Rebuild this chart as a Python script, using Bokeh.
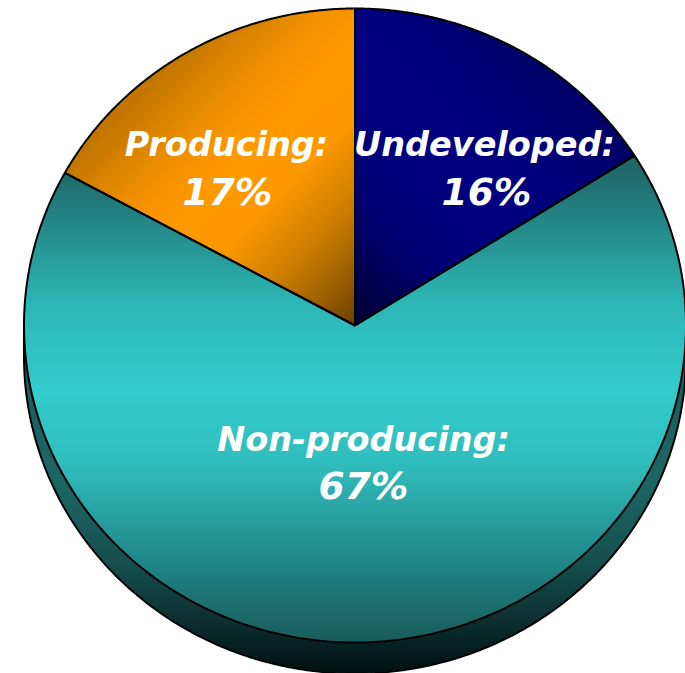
import numpy as np
from bokeh.core.properties import value
from bokeh.embed import file_html
from bokeh.models import ColumnDataSource, Range1d
from bokeh.plotting import figure
from bokeh.resources import INLINE

W, H = 685, 673

# Clockwise from twelve o'clock, as the slices are laid out
categories = ["Undeveloped", "Non-producing", "Producing"]
shares = [16, 67, 17]

# Pie geometry in page pixels: y grows downward, converted on drawing
CX, CY, RX, RY, DEPTH = 354.5, 325.0, 331.0, 317.0, 31.0


def hex_rgb(colour):
    return [int(colour[i:i + 2], 16) for i in (1, 3, 5)]


def ramp(t, stops):
    pos = [s[0] for s in stops]
    rgb = np.array([hex_rgb(s[1]) for s in stops], dtype=float)
    return np.stack([np.interp(t, pos, rgb[:, k]) for k in range(3)], axis=-1)


teal_stops = [(150, "#1b6361"), (175, "#1e6c6a"), (230, "#248c8b"), (300, "#2db5b5"),
              (390, "#33cccc"), (465, "#30bcbc"), (530, "#269898"), (590, "#1d7676"), (642, "#1a5c5c")]
side_stops = [(340, "#1a5a5a"), (480, "#1d6666"), (560, "#165050"), (620, "#0d2f30"), (673, "#001010")]
orange_stops = [(165, "#c27600"), (235, "#f09000"), (280, "#ff9900"), (335, "#fd9800"),
                (395, "#cc7e00"), (440, "#9c6000"), (483, "#6a4000")]
navy_stops = [(165, "#000068"), (235, "#00007a"), (280, "#000080"), (335, "#00007e"),
              (395, "#000070"), (440, "#000050"), (483, "#000030")]

# Cumulative slice edges, in radians clockwise from the top
edges = np.cumsum([0] + shares) / sum(shares) * 2 * np.pi

# Shaded raster of the slices, clipped by ellipse tests on a pixel grid
SS = 3
xs = (np.arange(W * SS) + 0.5) / SS
ys = (np.arange(H * SS) + 0.5) / SS
px, py = np.meshgrid(xs, ys)
ux, uy = (px - CX) / RX, (py - CY) / RY
top_mask = ux ** 2 + uy ** 2 <= 1
side_mask = (ux ** 2 + ((py - CY - DEPTH) / RY) ** 2 <= 1) | ((np.abs(ux) <= 1) & (py >= CY) & (py <= CY + DEPTH))
ang = np.mod(np.arctan2(ux, -uy), 2 * np.pi)

rgb = np.zeros(px.shape + (3,))
alpha = np.zeros(px.shape)
rgb[side_mask] = ramp(py[side_mask], side_stops)
alpha[side_mask] = 1

undev = top_mask & (ang < edges[1])
nonprod = top_mask & (ang >= edges[1]) & (ang < edges[2])
prod = top_mask & (ang >= edges[2])
rgb[nonprod] = ramp(py[nonprod], teal_stops)
rgb[prod] = ramp(0.72 * px[prod] + 0.70 * py[prod], orange_stops)
rgb[undev] = ramp(0.72 * (710 - px[undev]) + 0.70 * py[undev], navy_stops)
alpha[top_mask] = 1


def shrink(a):
    return a.reshape(H, SS, W, SS, *a.shape[2:]).mean(axis=(1, 3))


a_small = shrink(alpha)
rgb_small = shrink(rgb * alpha[..., None]) / np.maximum(a_small[..., None], 1e-6)
rgba = np.zeros((H, W), dtype=np.uint32)
view = rgba.view(np.uint8).reshape(H, W, 4)
view[..., :3] = np.clip(np.round(rgb_small), 0, 255).astype(np.uint8)
view[..., 3] = np.round(a_small * 255).astype(np.uint8)

p = figure(width=W, height=H, output_backend="svg", toolbar_location=None,
           x_range=Range1d(0, W), y_range=Range1d(0, H), min_border=0,
           x_axis_type=None, y_axis_type=None, outline_line_color=None,
           background_fill_color="white", border_fill_color="white")
p.grid.visible = False

# Image rows run bottom-up in Bokeh, so flip the raster
p.image_rgba(image=[rgba[::-1]], x=0, y=0, dw=W, dh=H)


def arc(a0, a1, dy=0.0, n=240):
    t = np.linspace(a0, a1, n)
    return CX + RX * np.sin(t), H - (CY + dy - RY * np.cos(t))


# Rim of the pie's side
sx, sy = arc(np.pi / 2, 3 * np.pi / 2, DEPTH)
p.line(np.r_[CX + RX, sx, CX - RX], np.r_[H - CY, sy, H - CY], line_color="black", line_width=2)

# Slice outlines
for a0, a1 in zip(edges[:-1], edges[1:]):
    ax, ay = arc(a0, a1)
    p.patch(np.r_[CX, ax], np.r_[H - CY, ay], fill_alpha=0, line_color="black", line_width=2)

# Labels: name on one row, share on the next, the share set a little larger
label_pos = {"Undeveloped": (484, 486, 144, 191), "Non-producing": (363, 363, 439, 485), "Producing": (226, 227, 144, 191)}
name_x, name_y, name_t, share_x, share_y, share_t = [], [], [], [], [], []
for name, share in zip(categories, shares):
    x1, x2, y1, y2 = label_pos[name]
    name_x.append(x1)
    name_y.append(H - y1)
    name_t.append(f"{name}:")
    share_x.append(x2)
    share_y.append(H - y2)
    share_t.append(f"{share}%")

label_style = dict(text_color="white", text_align="center", text_baseline="alphabetic",
                   text_font=value("DejaVu Sans"), text_font_style="bold italic")
p.text(x="x", y="y", text="t", source=ColumnDataSource(dict(x=name_x, y=name_y, t=name_t)),
       text_font_size="33.5px", **label_style)
p.text(x="x", y="y", text="t", source=ColumnDataSource(dict(x=share_x, y=share_y, t=share_t)),
       text_font_size="37.5px", **label_style)

open("out.html", "w").write(file_html(p, INLINE))
